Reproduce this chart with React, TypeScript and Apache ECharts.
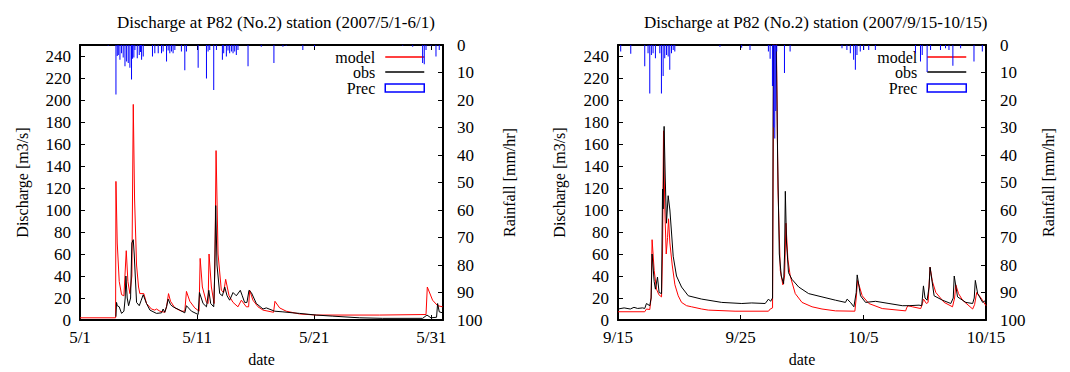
import React, { useEffect, useRef } from "react";
import * as echarts from "echarts";

// ---------- data (x = days since start of period) ----------
const titles = [
  "Discharge at P82 (No.2) station (2007/5/1-6/1)",
  "Discharge at P82 (No.2) station (2007/9/15-10/15)",
];
const xTickLabels1 = ["5/1", "5/11", "5/21", "5/31"];
const xTickLabels2 = ["9/15", "9/25", "10/5", "10/15"];
const xMax1 = 31;
const xMax2 = 30;

const model1: number[][] = [
  [0, 2], [3.04, 2], [3.07, 126], [3.18, 70], [3.35, 35], [3.55, 23], [3.75, 22], [3.95, 63],
  [4.09, 35], [4.26, 24], [4.43, 40], [4.55, 196], [4.66, 110], [4.83, 50], [5.0, 30], [5.11, 24],
  [5.45, 24], [5.68, 15], [6.1, 10], [6.39, 9], [6.53, 10], [6.82, 8], [7.24, 7], [7.39, 12],
  [7.56, 24], [7.73, 17], [8.1, 11], [8.66, 8], [8.95, 8], [9.09, 26], [9.38, 17], [9.8, 11],
  [10.17, 8], [10.26, 56], [10.45, 30], [10.8, 16], [10.94, 15], [11.02, 60], [11.22, 30],
  [11.45, 15], [11.53, 60], [11.62, 154], [11.79, 60], [12.07, 27], [12.27, 25], [12.44, 37],
  [12.73, 22], [13.07, 16], [13.49, 12], [13.78, 18], [14.2, 12], [14.4, 12], [14.49, 27],
  [14.77, 18], [15.2, 12], [15.63, 9], [16.53, 7], [16.65, 17], [17.05, 11], [17.61, 8],
  [18.75, 5.5], [20.17, 4.5], [25.57, 4.5], [25.6, 5], [29.55, 5], [29.66, 30], [30.11, 18],
  [30.54, 13], [30.97, 12],
];
const obs1: number[][] = [
  [3.07, 3], [3.12, 16], [3.18, 13], [3.35, 12], [3.55, 6], [3.75, 8], [3.86, 20], [3.92, 40],
  [4.03, 20], [4.15, 13], [4.32, 20], [4.43, 70], [4.55, 73], [4.63, 60], [4.83, 16], [5.06, 13],
  [5.23, 18], [5.4, 23], [5.68, 15], [5.97, 9], [6.53, 6], [6.96, 6.5], [7.1, 10], [7.24, 7],
  [7.39, 12], [7.53, 19], [7.73, 14], [7.95, 12], [8.52, 9], [8.95, 6.5], [9.09, 13], [9.52, 8],
  [10.09, 5], [10.2, 25], [10.51, 15], [10.8, 12], [11.0, 27], [11.16, 15], [11.42, 12],
  [11.5, 40], [11.59, 104], [11.7, 50], [11.93, 24], [12.16, 22], [12.36, 30], [12.56, 22],
  [12.78, 18], [13.07, 25], [13.35, 22], [13.69, 27], [13.86, 22], [14.06, 16], [14.26, 16],
  [14.43, 27], [14.63, 25], [15.06, 15], [15.63, 10], [15.91, 11], [16.62, 8], [17.33, 7.4],
  [18.18, 6.5], [18.75, 6], [20.17, 4.5], [21.59, 3.5], [23.86, 2], [25.85, 1.5], [29.26, 1.5],
  [29.63, 4.5], [29.97, 2], [30.45, 2.5], [30.54, 15], [30.68, 7.4], [30.97, 6.5],
];
const prec1: number[][] = [
  [2.41, 0.3], [3.07, 18], [3.18, 4], [3.27, 3.6], [3.41, 5.4], [3.55, 3], [3.69, 4.5], [3.84, 7.7],
  [3.98, 6], [4.12, 6.5], [4.26, 8.3], [4.4, 12.5], [4.49, 5], [4.6, 4.5], [4.69, 1.8], [4.89, 4.8],
  [5.06, 3.6], [5.17, 2.5], [5.26, 5.4], [5.4, 4.2], [6.19, 4.2], [6.39, 3], [6.68, 3], [6.96, 3],
  [7.1, 2.4], [7.39, 6], [7.53, 2], [7.67, 3], [7.81, 2.4], [7.95, 3], [8.1, 1.8], [8.66, 2.4],
  [8.95, 9.2], [9.09, 2.4], [10.09, 8.3], [10.8, 12.2], [10.94, 2.4], [11.08, 1.8], [11.42, 16.4],
  [11.65, 1.8], [12.16, 5.4], [12.27, 3], [12.5, 4.2], [12.64, 2], [12.78, 3], [12.93, 2.4],
  [13.07, 3], [13.21, 2.4], [13.35, 3.6], [13.49, 1.8], [14.35, 7.7], [15.48, 0.6], [16.56, 6.5],
  [17.33, 0.6], [17.61, 0.3], [19.03, 1.8], [20.03, 0.6], [27.56, 0.3], [28.41, 0.6], [29.26, 6.5],
  [29.4, 7], [29.55, 1.8], [29.97, 0.3], [30.4, 4.2], [30.68, 1.8],
];

const model2: number[][] = [
  [0, 7.5], [2.18, 7.5], [2.32, 10], [2.59, 9.5], [2.7, 20], [2.78, 73], [2.95, 45], [3.14, 28],
  [3.33, 23], [3.55, 21], [3.63, 60], [3.71, 172], [3.82, 100], [3.93, 60], [4.04, 75], [4.12, 92],
  [4.23, 70], [4.42, 50], [4.64, 32], [4.91, 22], [5.18, 16], [5.59, 13], [6.0, 12], [6.82, 10],
  [7.36, 9], [9.54, 8], [12.27, 8], [12.41, 10], [12.6, 11], [12.71, 300], [12.87, 300],
  [13.04, 120], [13.23, 45], [13.44, 32], [13.58, 40], [13.69, 88], [13.85, 55], [14.04, 40],
  [14.45, 24], [15.0, 16], [15.82, 12], [16.63, 10], [17.73, 8.3], [19.31, 8], [19.42, 20],
  [19.53, 36], [19.91, 22], [20.45, 15], [21.54, 10.4], [23.45, 8.3], [23.53, 11], [23.64, 13],
  [24.0, 12], [24.68, 10.4], [24.82, 15], [24.9, 19], [25.14, 15], [25.28, 16], [25.44, 48],
  [25.63, 35], [25.91, 25], [26.59, 16], [27.27, 12], [27.44, 20], [27.54, 32], [27.76, 24],
  [28.09, 18], [28.91, 10], [29.07, 14], [29.24, 25], [29.59, 20], [30.0, 13],
];
const obs2: number[][] = [
  [0, 10], [0.5, 11], [1.0, 10], [1.3, 11.5], [1.6, 10.5], [2.0, 11], [2.18, 10.5], [2.32, 15],
  [2.59, 13], [2.7, 20], [2.78, 60], [2.95, 35], [3.05, 28], [3.22, 39], [3.35, 25], [3.55, 24],
  [3.63, 119], [3.68, 101], [3.76, 176], [3.85, 130], [3.95, 88], [4.09, 113], [4.23, 100],
  [4.36, 80], [4.5, 58], [4.77, 40], [5.18, 30], [5.73, 22], [6.82, 19], [8.45, 16], [10.09, 15],
  [10.9, 15.5], [12.0, 15], [12.27, 19], [12.44, 17], [12.6, 20], [12.68, 300], [12.85, 300],
  [13.01, 150], [13.15, 60], [13.31, 40], [13.5, 33], [13.58, 60], [13.64, 117], [13.74, 70],
  [13.9, 43], [14.18, 37], [14.73, 30], [15.54, 24], [16.63, 21], [17.73, 18], [18.54, 16],
  [18.68, 19], [18.95, 16], [19.23, 12], [19.42, 25], [19.5, 41], [19.77, 22], [20.18, 16],
  [21.0, 17], [22.09, 15], [23.18, 13], [23.73, 13], [24.54, 13.5], [24.76, 13], [24.9, 31],
  [25.03, 20], [25.2, 18], [25.36, 30], [25.44, 48], [25.77, 22], [26.45, 18], [27.13, 15],
  [27.33, 20], [27.41, 40], [27.68, 21], [28.36, 16], [28.91, 15], [29.04, 20], [29.13, 36],
  [29.32, 24], [29.73, 16], [30.0, 18],
];
const prec2: number[][] = [
  [0.22, 2.4], [1.04, 3.2], [2.18, 7.7], [2.45, 3], [2.59, 17.6], [2.72, 3.6], [2.86, 3],
  [3.05, 4.8], [3.41, 3], [3.54, 17.6], [3.68, 11.3], [3.81, 4.8], [3.95, 3.6], [4.09, 4.2],
  [4.22, 9], [4.36, 3], [4.5, 1.8], [4.63, 2.4], [8.31, 0.6], [10.08, 1], [10.76, 1.8],
  [12.26, 2.4], [12.4, 5], [12.59, 14.9], [12.7, 30], [12.78, 34], [12.86, 24], [12.94, 2.4],
  [13.57, 10.2], [14.03, 2.4], [18.26, 1.2], [18.66, 1.8], [18.94, 3], [19.21, 5.4], [19.35, 9],
  [19.48, 3.6], [19.75, 2.4], [20.03, 1.8], [20.44, 1.8], [20.98, 1.8], [24.25, 3], [24.66, 6],
  [24.8, 3.6], [25.2, 9.8], [25.48, 1.8], [26.29, 1.8], [26.7, 1.2], [26.98, 1.8], [27.3, 7.5],
  [27.93, 1.2], [29.02, 6], [29.7, 2.4],
];

const FONT = "Liberation Serif";
const RED = "#ff0000";
const BLUE = "#0000ff";
const BLACK = "#000000";

function buildOption() {
  const charts = [
    { left: 80, width: 363, xMax: xMax1, ticks: xTickLabels1, model: model1, obs: obs1, prec: prec1,
      titleLeft: 117, legendRight: 645, yGapL: 50, yGapR: 58 },
    { left: 618, width: 368, xMax: xMax2, ticks: xTickLabels2, model: model2, obs: obs2, prec: prec2,
      titleLeft: 644, legendRight: 103, yGapL: 51, yGapR: 54 },
  ];
  const lineAxis = { show: true, onZero: false, lineStyle: { color: BLACK, width: 2 } };
  const tick = { show: true, inside: true, length: 5, lineStyle: { color: BLACK, width: 1 } };
  const label = { color: BLACK, fontFamily: FONT, fontSize: 17 };
  const nameStyle = { color: BLACK, fontFamily: FONT, fontSize: 16 };

  const grid: any[] = [];
  const xAxis: any[] = [];
  const yAxis: any[] = [];
  const series: any[] = [];
  const legend: any[] = [];
  const title: any[] = [];

  charts.forEach((c, i) => {
    grid.push({ left: c.left, top: 45, width: c.width, height: 280, containLabel: false });
    title.push({
      text: titles[i], left: c.titleLeft, top: 14, padding: 0,
      textStyle: { color: BLACK, fontFamily: FONT, fontSize: 17, fontWeight: "normal" },
    });
    xAxis.push({
      type: "value", gridIndex: i, min: 0, max: c.xMax, interval: 10, position: "bottom",
      axisLine: lineAxis, axisTick: tick, splitLine: { show: false },
      axisLabel: { ...label, margin: 9, showMaxLabel: c.xMax % 10 === 0,
        formatter: (v: number) => (v % 10 === 0 ? c.ticks[v / 10] ?? "" : "") },
      name: "date", nameLocation: "middle", nameGap: 31, nameTextStyle: nameStyle,
    });
    xAxis.push({
      type: "value", gridIndex: i, min: 0, max: c.xMax, interval: 10, position: "top",
      axisLine: lineAxis, axisTick: tick, splitLine: { show: false }, axisLabel: { show: false },
    });
    yAxis.push({
      type: "value", gridIndex: i, min: 0, max: 250, interval: 20, position: "left",
      axisLine: lineAxis, axisTick: tick, splitLine: { show: false },
      axisLabel: { ...label, margin: 9, showMaxLabel: false },
      name: "Discharge [m3/s]", nameLocation: "middle", nameGap: c.yGapL, nameTextStyle: nameStyle,
    });
    yAxis.push({
      type: "value", gridIndex: i, min: 0, max: 100, interval: 10, position: "right", inverse: true,
      axisLine: lineAxis, axisTick: tick, splitLine: { show: false },
      axisLabel: { ...label, margin: 14 },
      name: "Rainfall [mm/hr]", nameLocation: "middle", nameGap: c.yGapR, nameTextStyle: nameStyle,
    });
    series.push({
      name: "model", type: "line", xAxisIndex: 2 * i, yAxisIndex: 2 * i, data: c.model,
      symbol: "none", showSymbol: false, color: RED, lineStyle: { color: RED, width: 1 }, z: 3, clip: true,
    });
    series.push({
      name: "obs", type: "line", xAxisIndex: 2 * i, yAxisIndex: 2 * i, data: c.obs,
      symbol: "none", showSymbol: false, color: BLACK, lineStyle: { color: BLACK, width: 1 }, z: 4, clip: true,
    });
    series.push({
      name: "Prec", type: "bar", xAxisIndex: 2 * i, yAxisIndex: 2 * i + 1, data: c.prec,
      barWidth: 1, color: BLUE, itemStyle: { color: BLUE }, z: 5, clip: true,
    });
    const legTop = [49, 64, 80];
    ["model", "obs", "Prec"].forEach((n, k) => {
      const item: any = { name: n };
      let itemHeight = 2;
      if (n === "Prec") {
        item.icon = "rect";
        item.itemStyle = { color: "#ffffff", borderColor: BLUE, borderWidth: 1.5 };
        itemHeight = 8;
      } else {
        item.itemStyle = { opacity: 0 };
        item.lineStyle = { width: 1.5 };
      }
      legend.push({
        data: [item], right: c.legendRight, top: legTop[k], orient: "vertical", align: "right",
        padding: 0, itemWidth: 39, itemHeight, selectedMode: false,
        textStyle: { color: BLACK, fontFamily: FONT, fontSize: 16, padding: [0, 5, 0, 0] },
      });
    });
  });

  return {
    animation: false,
    backgroundColor: "#ffffff",
    textStyle: { fontFamily: FONT, color: BLACK },
    title, grid, xAxis, yAxis, series, legend,
  };
}

export default function App() {
  const ref = useRef<HTMLDivElement>(null);
  useEffect(() => {
    if (!ref.current) return;
    const chart = echarts.init(ref.current, undefined, { renderer: "svg" });
    chart.setOption(buildOption() as any);
    return () => chart.dispose();
  }, []);
  return (
    <div
      ref={ref}
      style={{ position: "absolute", left: 0, top: 0, width: 1070, height: 372, background: "#fff" }}
    />
  );
}
